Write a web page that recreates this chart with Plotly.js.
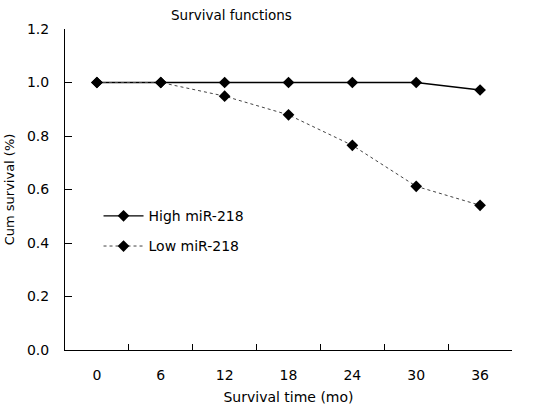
<!DOCTYPE html>
<html><head><meta charset="utf-8">
<script src="https://cdn.plot.ly/plotly-3.0.1.min.js"></script>
<style>html,body{margin:0;padding:0;background:#fff}</style>
</head><body>
<div id="chart" style="width:534px;height:409px"></div>
<script>
var months = ['0','6','12','18','24','30','36'];
var highMiR218 = [1.0, 1.0, 1.0, 1.0, 1.0, 1.0, 0.972];
var lowMiR218 = [1.0, 1.0, 0.949, 0.879, 0.765, 0.612, 0.541];
var chartTitle = 'Survival functions';

var font = 'DejaVu Sans, Verdana, sans-serif';
var traces = [
  {x: months, y: highMiR218, name: 'High miR-218', type: 'scatter', mode: 'lines+markers', legendgroup: 'a',
   line: {color: '#000', width: 1.3}, marker: {symbol: 'diamond', size: 9, color: '#000'}},
  {x: months, y: lowMiR218, name: 'Low miR-218', type: 'scatter', mode: 'lines+markers', legendgroup: 'b',
   line: {color: '#444', width: 1, dash: 'dot'}, marker: {symbol: 'diamond', size: 9, color: '#000'}}
];
var layout = {
  width: 534, height: 409,
  margin: {l: 65, r: 22, t: 29, b: 59},
  paper_bgcolor: '#fff', plot_bgcolor: '#fff',
  font: {family: font, size: 14, color: '#000'},
  annotations: [{text: chartTitle, xref: 'paper', yref: 'paper', x: 0.233, y: 1.044,
                 xanchor: 'left', yanchor: 'middle', align: 'left', showarrow: false,
                 font: {size: 13.5, family: font, color: '#000'}}],
  showlegend: true,
  legend: {x: 0.075, y: 0.37, xanchor: 'left', yanchor: 'middle', bgcolor: 'rgba(0,0,0,0)',
           font: {size: 14, family: font}, traceorder: 'grouped', tracegroupgap: 9, itemwidth: 40},
  xaxis: {type: 'category', range: [-0.5, 6.5], tickson: 'boundaries', ticks: 'inside', ticklen: 6,
          tickcolor: '#000', showline: true, linecolor: '#000', linewidth: 1, showgrid: false, zeroline: false,
          title: {text: 'Survival time (mo)', font: {size: 14, family: font}, standoff: 10},
          tickfont: {size: 14, family: font}, ticklabelstandoff: 12, fixedrange: true},
  yaxis: {range: [0, 1.2], dtick: 0.2, tickformat: '.1f', ticks: 'inside', ticklen: 7, tickcolor: '#000',
          showline: true, linecolor: '#000', linewidth: 1, showgrid: false, zeroline: false,
          title: {text: 'Cum survival (%)', font: {size: 13, family: font}, standoff: 9},
          tickfont: {size: 14, family: font}, ticklabelstandoff: 12}
};
Plotly.newPlot('chart', traces, layout, {displayModeBar: false, staticPlot: true});
</script>
</body></html>
